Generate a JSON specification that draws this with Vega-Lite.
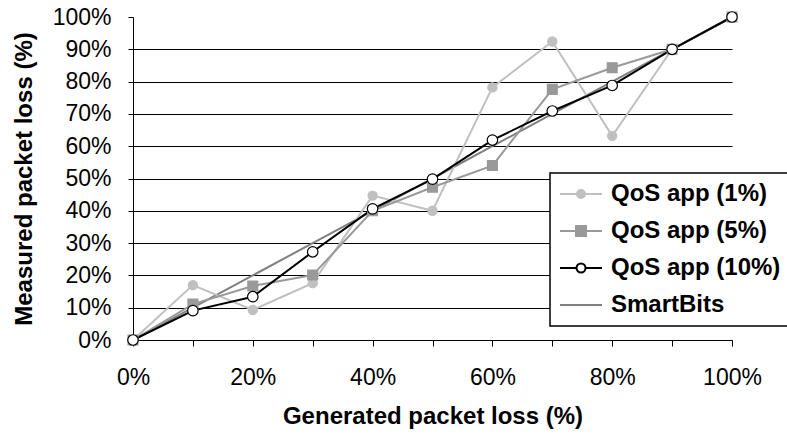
{
  "$schema": "https://vega.github.io/schema/vega-lite/v6.json",
  "width": 599,
  "height": 323,
  "autosize": {"type": "none"},
  "padding": {"left": 133, "top": 17, "right": 55, "bottom": 94},
  "background": "white",
  "config": {
    "view": {"stroke": null},
    "axis": {
      "labelFont": "Liberation Sans", "labelFontSize": 23, "labelColor": "black",
      "titleFont": "Liberation Sans", "titleFontSize": 24, "titleFontWeight": "bold", "titleColor": "black",
      "domainColor": "black", "tickColor": "black", "gridColor": "black",
      "domainWidth": 1, "tickWidth": 1, "gridWidth": 1
    }
  },
  "data": {"values": [
    {"series": "SmartBits", "x": 0, "y": 0}, {"series": "SmartBits", "x": 0.1, "y": 0.1}, {"series": "SmartBits", "x": 0.2, "y": 0.2}, {"series": "SmartBits", "x": 0.3, "y": 0.3}, {"series": "SmartBits", "x": 0.4, "y": 0.4}, {"series": "SmartBits", "x": 0.5, "y": 0.5}, {"series": "SmartBits", "x": 0.6, "y": 0.6}, {"series": "SmartBits", "x": 0.7, "y": 0.7}, {"series": "SmartBits", "x": 0.8, "y": 0.8}, {"series": "SmartBits", "x": 0.9, "y": 0.9}, {"series": "SmartBits", "x": 1.0, "y": 1.0},
    {"series": "QoS app (1%)", "x": 0, "y": 0}, {"series": "QoS app (1%)", "x": 0.1, "y": 0.17}, {"series": "QoS app (1%)", "x": 0.2, "y": 0.093}, {"series": "QoS app (1%)", "x": 0.3, "y": 0.176}, {"series": "QoS app (1%)", "x": 0.4, "y": 0.447}, {"series": "QoS app (1%)", "x": 0.5, "y": 0.40}, {"series": "QoS app (1%)", "x": 0.6, "y": 0.782}, {"series": "QoS app (1%)", "x": 0.7, "y": 0.924}, {"series": "QoS app (1%)", "x": 0.8, "y": 0.632}, {"series": "QoS app (1%)", "x": 0.9, "y": 0.90}, {"series": "QoS app (1%)", "x": 1.0, "y": 1.0},
    {"series": "QoS app (5%)", "x": 0, "y": 0}, {"series": "QoS app (5%)", "x": 0.1, "y": 0.111}, {"series": "QoS app (5%)", "x": 0.2, "y": 0.167}, {"series": "QoS app (5%)", "x": 0.3, "y": 0.201}, {"series": "QoS app (5%)", "x": 0.4, "y": 0.40}, {"series": "QoS app (5%)", "x": 0.5, "y": 0.473}, {"series": "QoS app (5%)", "x": 0.6, "y": 0.54}, {"series": "QoS app (5%)", "x": 0.7, "y": 0.776}, {"series": "QoS app (5%)", "x": 0.8, "y": 0.843}, {"series": "QoS app (5%)", "x": 0.9, "y": 0.90}, {"series": "QoS app (5%)", "x": 1.0, "y": 1.0},
    {"series": "QoS app (10%)", "x": 0, "y": 0}, {"series": "QoS app (10%)", "x": 0.1, "y": 0.091}, {"series": "QoS app (10%)", "x": 0.2, "y": 0.134}, {"series": "QoS app (10%)", "x": 0.3, "y": 0.273}, {"series": "QoS app (10%)", "x": 0.4, "y": 0.406}, {"series": "QoS app (10%)", "x": 0.5, "y": 0.498}, {"series": "QoS app (10%)", "x": 0.6, "y": 0.619}, {"series": "QoS app (10%)", "x": 0.7, "y": 0.709}, {"series": "QoS app (10%)", "x": 0.8, "y": 0.788}, {"series": "QoS app (10%)", "x": 0.9, "y": 0.90}, {"series": "QoS app (10%)", "x": 1.0, "y": 1.0}
  ]},
  "encoding": {
    "x": {
      "field": "x", "type": "quantitative",
      "scale": {"domain": [0, 1], "nice": false, "zero": false},
      "axis": {
        "title": "Generated packet loss (%)",
        "values": [0, 0.1, 0.2, 0.3, 0.4, 0.5, 0.6, 0.7, 0.8, 0.9, 1.0],
        "labelExpr": "round(datum.value * 100) % 20 == 0 ? format(datum.value, '.0%') : ''",
        "grid": false, "tickSize": 6, "labelPadding": 20, "titlePadding": 15,
        "labelFlush": false, "labelOverlap": false
      }
    },
    "y": {
      "field": "y", "type": "quantitative",
      "scale": {"domain": [0, 1], "nice": false},
      "axis": {
        "title": "Measured packet loss (%)",
        "values": [0, 0.1, 0.2, 0.3, 0.4, 0.5, 0.6, 0.7, 0.8, 0.9, 1.0],
        "format": ".0%",
        "grid": true,
        "gridOpacity": {"condition": {"test": "datum.value > 0.95", "value": 0}, "value": 1},
        "tickSize": 5, "labelPadding": 17, "titlePadding": 16,
        "labelFlush": false, "labelOverlap": false
      }
    }
  },
  "layer": [
    {
      "mark": {"type": "line"},
      "encoding": {
        "color": {
          "field": "series", "type": "nominal",
          "scale": {"domain": ["QoS app (1%)", "QoS app (5%)", "QoS app (10%)", "SmartBits"], "range": ["#c0c0c0", "#999999", "#000000", "#808080"]},
          "legend": {
            "orient": "none", "legendX": 417, "legendY": 156, "title": null,
            "labelFont": "Liberation Sans", "labelFontSize": 24, "labelFontWeight": "bold", "labelColor": "black",
            "labelLimit": 400,
            "symbolSize": 400, "symbolStrokeWidth": 2, "labelOffset": 28,
            "rowPadding": 13, "padding": 9,
            "strokeColor": "black", "fillColor": "white",
            "encode": {
              "symbols": {"update": {
                "shape": {"signal": "datum.value === 'SmartBits' ? 'M-1.1,0H3.1' : datum.value === 'QoS app (5%)' ? 'M-1.1,0H0.5M1.5,0H3.1M0.5,-0.5H1.5V0.5H0.5Z' : datum.value === 'QoS app (10%)' ? 'M-1.1,0H0.55M1.45,0H3.1M1.45,0A0.45,0.45 0 1,1 0.55,0A0.45,0.45 0 1,1 1.45,0Z' : 'M-1.1,0H0.6M1.4,0H3.1M1.4,0A0.4,0.4 0 1,1 0.6,0A0.4,0.4 0 1,1 1.4,0Z'"},
                "fill": {"signal": "datum.value === 'QoS app (1%)' ? '#c0c0c0' : datum.value === 'QoS app (5%)' ? '#999999' : datum.value === 'QoS app (10%)' ? '#ffffff' : 'transparent'"},
                "opacity": {"value": 1}
              }},
              "legend": {"update": {"strokeWidth": {"value": 1.5}}}
            }
          }
        },
        "strokeWidth": {
          "field": "series", "type": "nominal",
          "scale": {"domain": ["QoS app (1%)", "QoS app (5%)", "QoS app (10%)", "SmartBits"], "range": [2, 2, 1.6, 2]},
          "legend": null
        }
      }
    },
    {
      "transform": [{"filter": "datum.series !== 'SmartBits'"}],
      "mark": {"type": "point", "filled": false, "opacity": 1, "strokeWidth": 1.2},
      "encoding": {
        "shape": {
          "field": "series", "type": "nominal",
          "scale": {"domain": ["QoS app (1%)", "QoS app (5%)", "QoS app (10%)"], "range": ["circle", "square", "circle"]},
          "legend": null
        },
        "fill": {
          "field": "series", "type": "nominal",
          "scale": {"domain": ["QoS app (1%)", "QoS app (5%)", "QoS app (10%)"], "range": ["#c0c0c0", "#999999", "#ffffff"]},
          "legend": null
        },
        "stroke": {
          "field": "series", "type": "nominal",
          "scale": {"domain": ["QoS app (1%)", "QoS app (5%)", "QoS app (10%)"], "range": ["#c0c0c0", "#999999", "#000000"]},
          "legend": null
        },
        "size": {
          "field": "series", "type": "nominal",
          "scale": {"domain": ["QoS app (1%)", "QoS app (5%)", "QoS app (10%)"], "range": [85, 110, 95]},
          "legend": null
        }
      }
    }
  ]
}
